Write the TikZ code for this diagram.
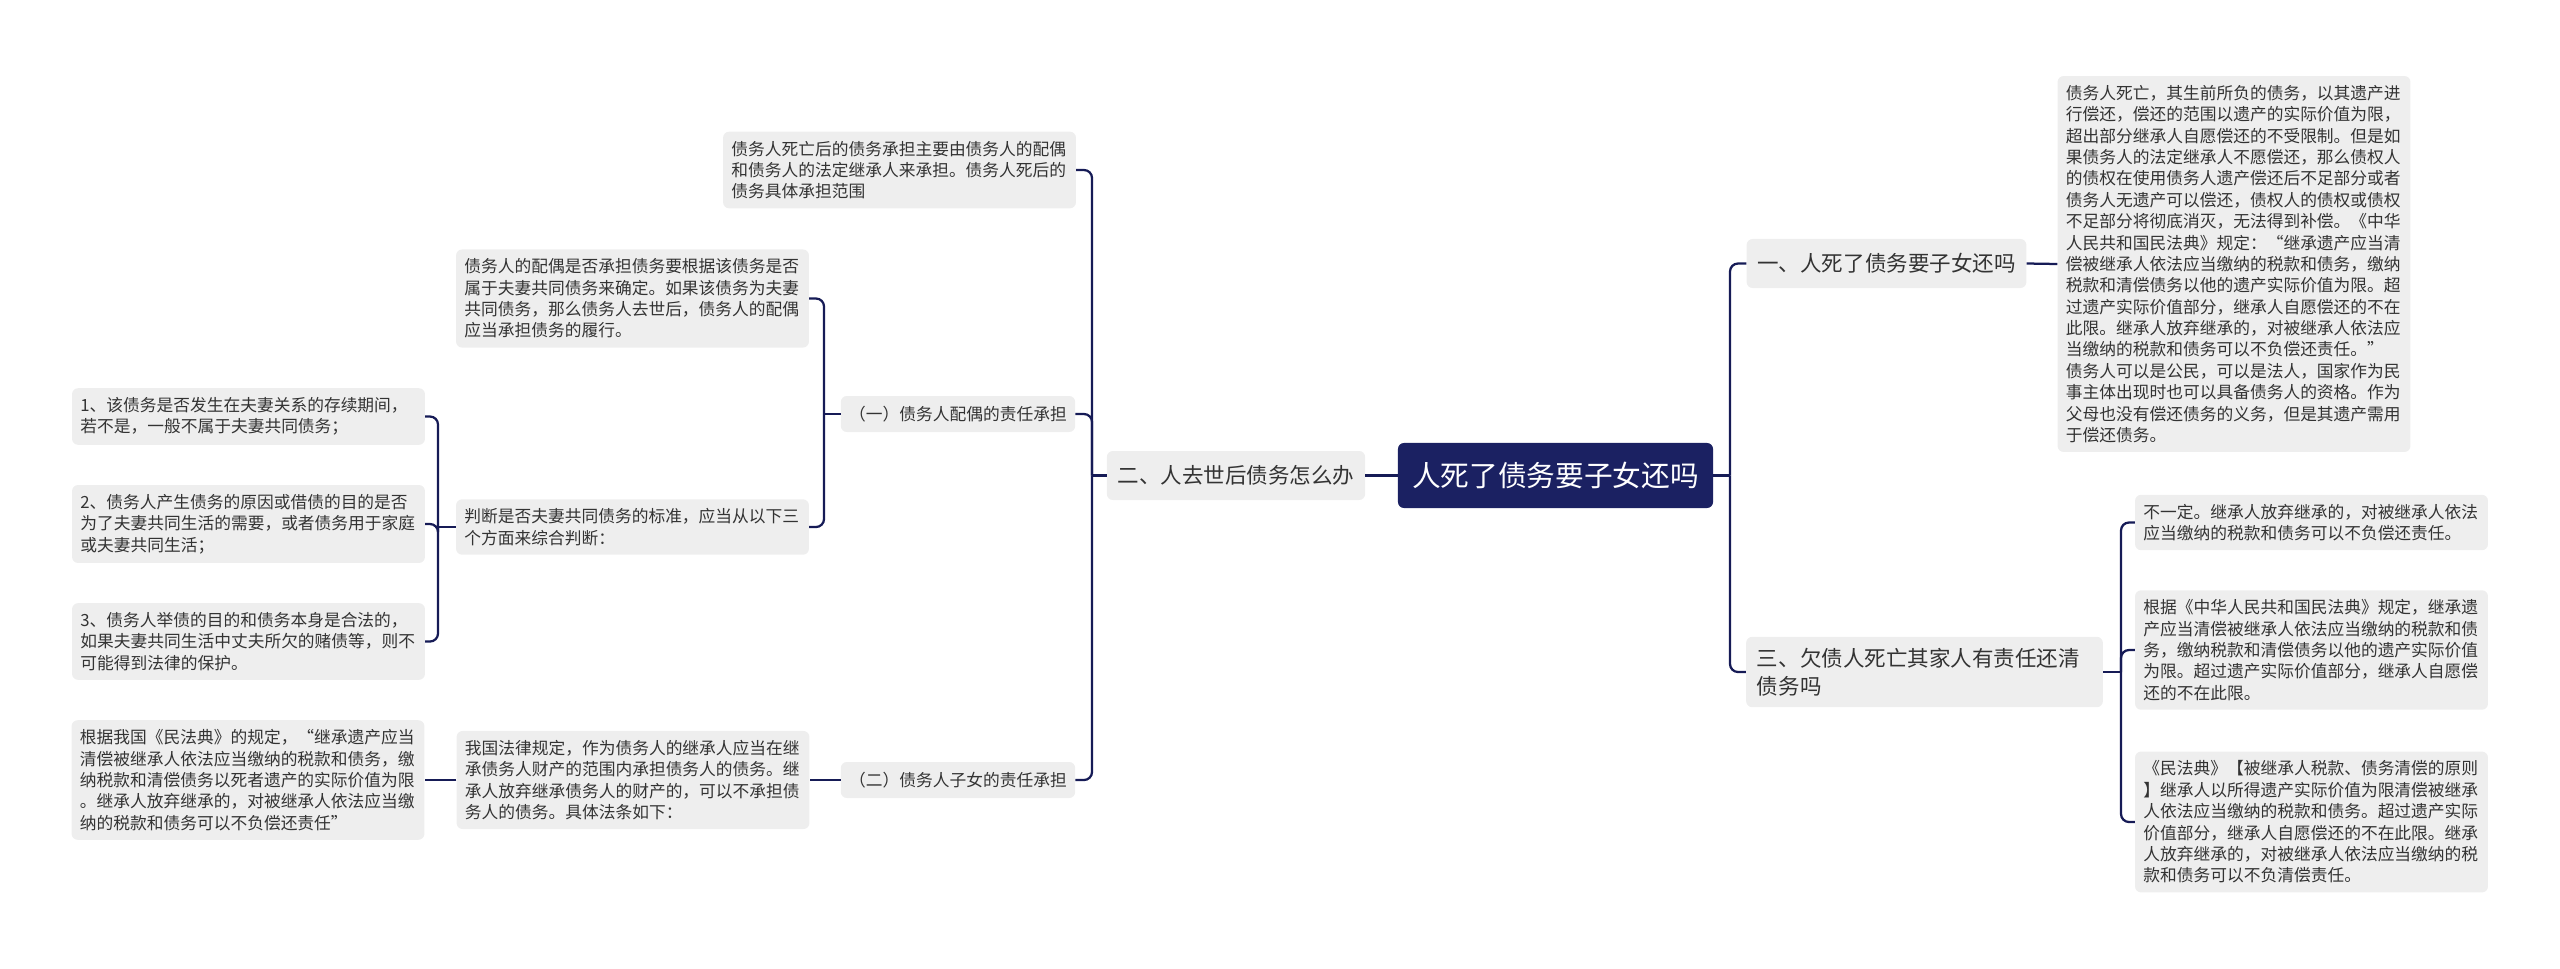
\documentclass[tikz,border=0pt]{standalone}
\usepackage{fontspec}
\setmainfont{Noto Sans CJK SC}
\usetikzlibrary{calc}

\definecolor{navy}{HTML}{1B2162}
\definecolor{linkblue}{HTML}{161B56}
\definecolor{boxgray}{HTML}{EEEEEE}
\definecolor{inkgray}{HTML}{333333}

\begin{document}
\begin{tikzpicture}[x=0.025cm, y=-0.025cm,
    rootbox/.style={fill=navy, text=white, rounded corners=0.15cm, minimum width=7.875cm, minimum height=1.625cm, font=\fontsize{20.4}{24}\selectfont},
    topbox/.style={fill=boxgray, text=inkgray, rounded corners=0.15cm, inner xsep=0.27cm, minimum height=1.225cm, font=\fontsize{15.3}{19.9}\selectfont},
    leaf/.style={fill=boxgray, text=inkgray, rounded corners=0.15cm, align=left, text width=8.4cm, inner xsep=0.21cm, inner ysep=0.23cm, font=\fontsize{11.9}{15.2}\selectfont},
    subbox/.style={fill=boxgray, text=inkgray, rounded corners=0.15cm, inner xsep=0.21cm, minimum height=0.9cm, font=\fontsize{11.9}{15.2}\selectfont},
    link/.style={draw=linkblue, line width=1.6pt},
    elbow/.style={link, rounded corners=0.2cm}
]
\useasboundingbox (0,0) rectangle (2560,968);

% centre
\node[rootbox] (root) at (1555.5,475.5) {人死了债务要子女还吗};

% right side
\node[topbox] (one) at (1886.5,263.5) {一、人死了债务要子女还吗};
\node[leaf] (big) at (2234,264) {债务人死亡，其生前所负的债务，以其遗产进\\行偿还，偿还的范围以遗产的实际价值为限，\\超出部分继承人自愿偿还的不受限制。但是如\\果债务人的法定继承人不愿偿还，那么债权人\\的债权在使用债务人遗产偿还后不足部分或者\\债务人无遗产可以偿还，债权人的债权或债权\\不足部分将彻底消灭，无法得到补偿。《中华\\人民共和国民法典》规定：“继承遗产应当清\\偿被继承人依法应当缴纳的税款和债务，缴纳\\税款和清偿债务以他的遗产实际价值为限。超\\过遗产实际价值部分，继承人自愿偿还的不在\\此限。继承人放弃继承的，对被继承人依法应\\当缴纳的税款和债务可以不负偿还责任。”\\债务人可以是公民，可以是法人，国家作为民\\事主体出现时也可以具备债务人的资格。作为\\父母也没有偿还债务的义务，但是其遗产需用\\于偿还债务。};
\node[topbox, align=left, text width=8.375cm, inner ysep=0.28cm] (three) at (1924.5,672) {三、欠债人死亡其家人有责任还清\\债务吗};
\node[leaf] (c1) at (2311.5,522.5) {不一定。继承人放弃继承的，对被继承人依法\\应当缴纳的税款和债务可以不负偿还责任。};
\node[leaf] (c2) at (2311.5,650) {根据《中华人民共和国民法典》规定，继承遗\\产应当清偿被继承人依法应当缴纳的税款和债\\务，缴纳税款和清偿债务以他的遗产实际价值\\为限。超过遗产实际价值部分，继承人自愿偿\\还的不在此限。};
\node[leaf] (c3) at (2311.5,822) {《民法典》【被继承人税款、债务清偿的原则\\】继承人以所得遗产实际价值为限清偿被继承\\人依法应当缴纳的税款和债务。超过遗产实际\\价值部分，继承人自愿偿还的不在此限。继承\\人放弃继承的，对被继承人依法应当缴纳的税\\款和债务可以不负清偿责任。};

% left side
\node[topbox] (two) at (1236,475.5) {二、人去世后债务怎么办};
\node[leaf] (scope) at (899.5,170) {债务人死亡后的债务承担主要由债务人的配偶\\和债务人的法定继承人来承担。债务人死后的\\债务具体承担范围};
\node[subbox] (spouse) at (958,414) {（一）债务人配偶的责任承担};
\node[subbox] (child) at (958,780) {（二）债务人子女的责任承担};
\node[leaf] (spA) at (632.5,298.5) {债务人的配偶是否承担债务要根据该债务是否\\属于夫妻共同债务来确定。如果该债务为夫妻\\共同债务，那么债务人去世后，债务人的配偶\\应当承担债务的履行。};
\node[leaf] (spB) at (632.5,527) {判断是否夫妻共同债务的标准，应当从以下三\\个方面来综合判断：};
\node[leaf] (k1) at (248.5,416.5) {1、该债务是否发生在夫妻关系的存续期间，\\若不是，一般不属于夫妻共同债务；};
\node[leaf] (k2) at (248.5,524) {2、债务人产生债务的原因或借债的目的是否\\为了夫妻共同生活的需要，或者债务用于家庭\\或夫妻共同生活；};
\node[leaf] (k3) at (248.5,641.5) {3、债务人举债的目的和债务本身是合法的，\\如果夫妻共同生活中丈夫所欠的赌债等，则不\\可能得到法律的保护。};
\node[leaf] (heir) at (633,780) {我国法律规定，作为债务人的继承人应当在继\\承债务人财产的范围内承担债务人的债务。继\\承人放弃继承债务人的财产的，可以不承担债\\务人的债务。具体法条如下：};
\node[leaf] (law) at (248,780) {根据我国《民法典》的规定，“继承遗产应当\\清偿被继承人依法应当缴纳的税款和债务，缴\\纳税款和清偿债务以死者遗产的实际价值为限\\。继承人放弃继承的，对被继承人依法应当缴\\纳的税款和债务可以不负偿还责任”};

% junctions
\coordinate (jr) at (1730,475.5);
\coordinate (jt) at (2121,672);
\coordinate (jl) at (1092,475.5);
\coordinate (js) at (824,414);
\coordinate (jk) at (438,527);

% connectors
\draw[link] (root.east) -- (jr);
\draw[elbow] (jr) |- (one.west);
\draw[elbow] (jr) |- (three.west);
\draw[link] (one.east) -- (big.west);
\draw[link] (three.east) -- (jt);
\draw[elbow] (jt) |- (c1.west);
\draw[elbow] (jt) |- (c2.west);
\draw[elbow] (jt) |- (c3.west);

\draw[link] (root.west) -- (two.east);
\draw[link] (two.west) -- (jl);
\draw[elbow] (jl) |- (scope.east);
\draw[elbow] (jl) |- (spouse.east);
\draw[elbow] (jl) |- (child.east);
\draw[link] (spouse.west) -- (js);
\draw[elbow] (js) |- (spA.east);
\draw[elbow] (js) |- (spB.east);
\draw[link] (spB.west) -- (jk);
\draw[elbow] (jk) |- (k1.east);
\draw[elbow] (jk) |- (k2.east);
\draw[elbow] (jk) |- (k3.east);
\draw[link] (child.west) -- (heir.east);
\draw[link] (heir.west) -- (law.east);
\end{tikzpicture}
\end{document}
